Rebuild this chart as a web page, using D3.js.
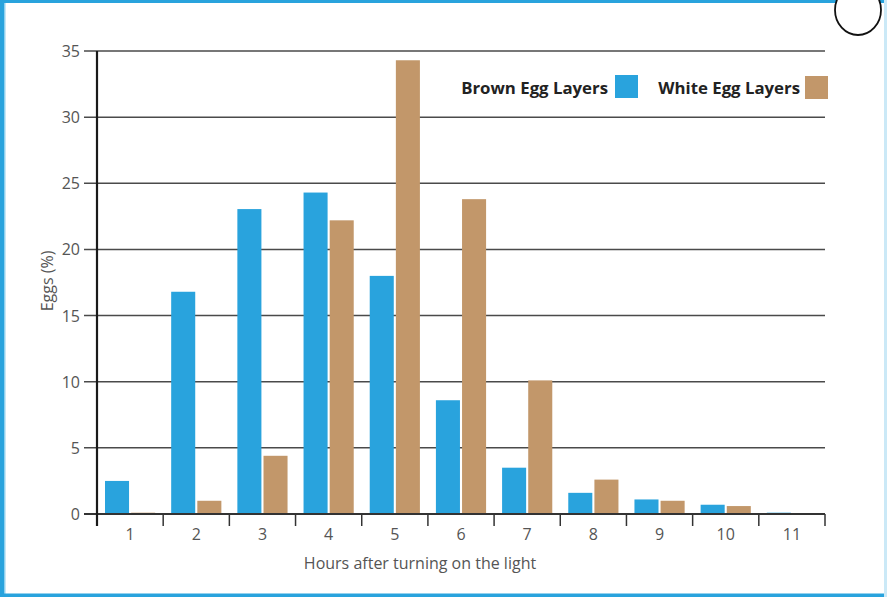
<!DOCTYPE html>
<html lang="en">
  <head>
    <meta charset="UTF-8" />
    <title>Eggs laid after turning on the light</title>
    <style>
      body { margin: 0; background: #fff; }
      svg { display: block; }
      .tick-label { font-family: "Open Sans", sans-serif; font-size: 16px; fill: #555; }
      .axis-title { font-family: "Open Sans", sans-serif; font-size: 16px; fill: #555; }
      .legend-label { font-family: "Open Sans", sans-serif; font-size: 16.8px; font-weight: bold; fill: #222; }
    </style>
  </head>
  <body>
    <script src="https://cdn.jsdelivr.net/npm/d3@7/dist/d3.min.js"></script>
    <script>
      // data
      var hours = ["1", "2", "3", "4", "5", "6", "7", "8", "9", "10", "11"];
      var series = ["Brown Egg Layers", "White Egg Layers"];
      var brownLayers = [2.5, 16.8, 23.05, 24.3, 18.0, 8.6, 3.5, 1.6, 1.1, 0.7, 0.1];
      var whiteLayers = [0.1, 1.0, 4.4, 22.2, 34.3, 23.8, 10.1, 2.6, 1.0, 0.6, 0];
      var yTicks = [0, 5, 10, 15, 20, 25, 30, 35];
      var colors = ["#29a3dd", "#c2976a"];

      var W = 887, H = 597;
      var svg = d3.select("body").append("svg")
                  .attr("width", W)
                  .attr("height", H);

      // frame
      svg.append("rect").attr("x", 0).attr("y", 0).attr("width", W).attr("height", H).attr("fill", "#fff");
      svg.append("rect").attr("x", 0).attr("y", 0).attr("width", 4).attr("height", H).attr("fill", "#29a3dd");
      svg.append("rect").attr("x", 4).attr("y", 0).attr("width", 1.5).attr("height", H).attr("fill", "#8fd0ee");
      svg.append("rect").attr("x", 0).attr("y", 0).attr("width", W).attr("height", 3).attr("fill", "#29a3dd");
      svg.append("rect").attr("x", 0).attr("y", H - 3.5).attr("width", W).attr("height", 3.5).attr("fill", "#29a3dd");
      svg.append("rect").attr("x", W - 3).attr("y", 0).attr("width", 3).attr("height", H).attr("fill", "#cbe9f7");

      var x0 = 97, x1 = 825, yTop = 51, yBottom = 514;

      var xScale = d3.scaleBand().domain(hours).range([x0, x1]);
      var xInner = d3.scaleBand().domain(series)
                     .range([8, xScale.bandwidth() - 8])
                     .paddingInner(0.08);
      var yScale = d3.scaleLinear().domain([0, 35]).range([yBottom, yTop]);

      // grid lines + y labels
      svg.selectAll(".grid")
         .data(yTicks)
         .enter()
         .append("line")
         .attr("class", "grid")
         .attr("x1", 84)
         .attr("x2", x1)
         .attr("y1", function(d) { return yScale(d); })
         .attr("y2", function(d) { return yScale(d); })
         .attr("stroke", "#4a4a4a")
         .attr("stroke-width", 1.5);

      svg.selectAll(".ylab")
         .data(yTicks)
         .enter()
         .append("text")
         .attr("class", "tick-label")
         .attr("text-anchor", "end")
         .attr("x", 80)
         .attr("y", function(d) { return yScale(d) + 6; })
         .text(function(d) { return d; });

      // bars
      var rows = hours.map(function(h, i) { return { hour: h, values: [brownLayers[i], whiteLayers[i]] }; });
      var groups = svg.selectAll(".grp")
         .data(rows)
         .enter()
         .append("g")
         .attr("class", "grp")
         .attr("transform", function(d) { return "translate(" + xScale(d.hour) + ",0)"; });

      groups.selectAll("rect")
         .data(function(d) { return d.values.map(function(v, j) { return { key: series[j], value: v, idx: j }; }); })
         .enter()
         .append("rect")
         .attr("x", function(d) { return xInner(d.key); })
         .attr("width", xInner.bandwidth())
         .attr("y", function(d) { return yScale(d.value); })
         .attr("height", function(d) { return yBottom - yScale(d.value); })
         .attr("fill", function(d) { return colors[d.idx]; });

      // axes
      svg.append("line")
         .attr("x1", 84).attr("x2", x1)
         .attr("y1", yBottom).attr("y2", yBottom)
         .attr("stroke", "#333").attr("stroke-width", 1.8);
      svg.append("line")
         .attr("x1", x0).attr("x2", x0)
         .attr("y1", yTop).attr("y2", yBottom + 12)
         .attr("stroke", "#1a1a1a").attr("stroke-width", 2.2);

      var xAxis = d3.axisBottom(xScale).tickSize(0).tickPadding(15);
      var xg = svg.append("g")
         .attr("transform", "translate(0," + yBottom + ")")
         .call(xAxis);
      xg.select(".domain").remove();
      xg.attr("font-size", null).attr("font-family", null);
      xg.selectAll("text").attr("class", "tick-label").attr("fill", null);

      var bounds = hours.map(function(h) { return xScale(h); }).concat([x1]);
      svg.selectAll(".xtick")
         .data(bounds.slice(1))
         .enter()
         .append("line")
         .attr("class", "xtick")
         .attr("x1", function(d) { return d; })
         .attr("x2", function(d) { return d; })
         .attr("y1", yBottom)
         .attr("y2", yBottom + 12)
         .attr("stroke", "#333")
         .attr("stroke-width", 1.5);

      // axis titles
      svg.append("text")
         .attr("class", "axis-title")
         .attr("text-anchor", "middle")
         .attr("x", 420)
         .attr("y", 569)
         .text("Hours after turning on the light");
      svg.append("text")
         .attr("class", "axis-title")
         .attr("text-anchor", "middle")
         .attr("transform", "translate(53,281)rotate(-90)")
         .text("Eggs (%)");

      // legend
      var legend = [
        { label: series[0], textEnd: 608, sw: 615, color: colors[0], y: 75 },
        { label: series[1], textEnd: 800, sw: 805, color: colors[1], y: 76 }
      ];
      svg.selectAll(".legend-label")
         .data(legend)
         .enter()
         .append("text")
         .attr("class", "legend-label")
         .attr("text-anchor", "end")
         .attr("x", function(d) { return d.textEnd; })
         .attr("y", 94)
         .text(function(d) { return d.label; });
      svg.selectAll(".swatch")
         .data(legend)
         .enter()
         .append("rect")
         .attr("class", "swatch")
         .attr("x", function(d) { return d.sw; })
         .attr("y", function(d) { return d.y; })
         .attr("width", 23)
         .attr("height", 23)
         .attr("fill", function(d) { return d.color; });

      // circle in the top-right corner
      svg.append("ellipse")
         .attr("cx", 858)
         .attr("cy", 10)
         .attr("rx", 23)
         .attr("ry", 25)
         .attr("fill", "#fff")
         .attr("stroke", "#111")
         .attr("stroke-width", 1.8);
    </script>
  </body>
</html>
